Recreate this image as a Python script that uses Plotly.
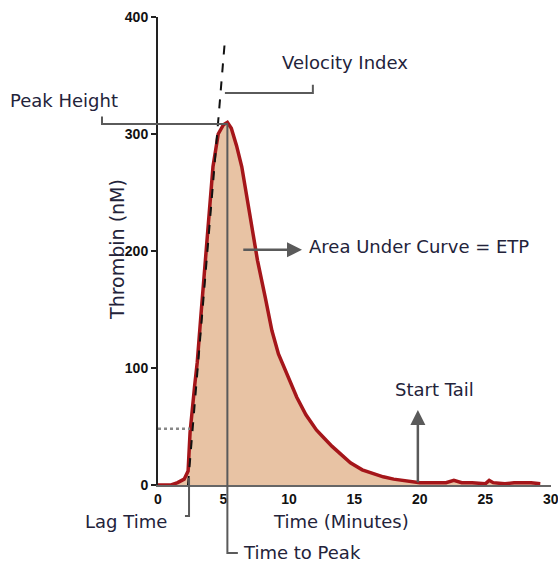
import plotly.graph_objects as go

# ---- data ----
time_min = [0, 1.0, 1.5, 2.0, 2.3, 2.45, 2.8, 3.0, 3.3, 3.6, 4.2, 4.6, 5.0, 5.3,
            5.6, 6.0, 6.4, 7.0, 7.6, 8.2, 8.7, 9.2, 9.5, 10.0, 10.6, 11.3, 12.1,
            12.7, 13.3, 14.0, 14.7, 15.6, 16.4, 17.2, 18.0, 19.2, 20.0, 21.0,
            22.0, 22.6, 23.2, 24.0, 25.0, 25.3, 25.6, 26.5, 27.2, 27.8, 28.5, 29.2]
thrombin_nM = [0, 0, 2, 5, 12, 45, 85, 105, 148, 192, 272, 300, 308, 310,
               305, 290, 272, 232, 192, 160, 132, 112, 104, 90, 75, 60, 47,
               40, 33, 26, 19, 13, 10, 7, 5, 3, 2, 2,
               2, 4, 2, 2, 1, 4, 2, 1, 2, 2, 2, 1]

tangent_t = [2.29, 5.11]
tangent_v = [0, 380]

threshold_t = [0, 2.44]
threshold_v = [48, 48]

x_ticks = [0, 5, 10, 15, 20, 25, 30]
y_ticks = [0, 100, 200, 300, 400]

TXT = "#23233a"
GRAY = "#5a5a5a"
FONT = "DejaVu Sans"
TICKFONT = "Liberation Sans Narrow, Liberation Sans, Arial"

fig = go.Figure()

fig.add_trace(go.Scatter(
    x=time_min, y=thrombin_nM, mode="lines", fill="tozeroy",
    fillcolor="#e8c3a4", line=dict(color="#a5161a", width=3.5),
    hoverinfo="skip", showlegend=False))

fig.add_trace(go.Scatter(
    x=threshold_t, y=threshold_v, mode="lines",
    line=dict(color="#888888", width=2.5, dash="dot"),
    hoverinfo="skip", showlegend=False))

fig.add_trace(go.Scatter(
    x=tangent_t, y=tangent_v, mode="lines",
    line=dict(color="#111111", width=2, dash="dash"),
    hoverinfo="skip", showlegend=False))

shapes = [
    # Peak height bracket
    dict(type="path", xref="paper", yref="y",
         path="M -0.1425,315 L -0.1425,308.5 L 0.178,308.5",
         line=dict(color=GRAY, width=2)),
    # Velocity index bracket
    dict(type="path", xref="x", yref="y",
         path="M 5.11,335 L 11.83,335 L 11.83,342",
         line=dict(color=GRAY, width=2)),
    # Time to peak
    dict(type="path", xref="x", yref="paper",
         path="M 5.3,0.771 L 5.3,-0.1453 L 6.1,-0.1453",
         line=dict(color=GRAY, width=2)),
    # Lag time
    dict(type="path", xref="x", yref="paper",
         path="M 2.37,0.015 L 2.37,-0.0662 L 2.06,-0.0662",
         line=dict(color=GRAY, width=2)),
]

annotations = [
    dict(x=11.0, y=201, ax=6.4, ay=201, axref="x", ayref="y", xref="x", yref="y",
         text="", showarrow=True, arrowhead=2, arrowsize=1.2, arrowwidth=2.5,
         arrowcolor=GRAY),
    dict(x=19.85, y=64, ax=19.85, ay=1, axref="x", ayref="y", xref="x", yref="y",
         text="", showarrow=True, arrowhead=2, arrowsize=1.2, arrowwidth=2.5,
         arrowcolor=GRAY),
    dict(x=11.37, y=204, xref="x", yref="y", text="Area Under Curve = ETP",
         xanchor="left", yanchor="middle", showarrow=False),
    dict(x=21.1, y=82, xref="x", yref="y", text="Start Tail",
         xanchor="center", yanchor="middle", showarrow=False),
    dict(x=14.3, y=361, xref="x", yref="y", text="Velocity Index",
         xanchor="center", yanchor="middle", showarrow=False),
    dict(x=-0.239, y=329, xref="paper", yref="y", text="Peak Height",
         xanchor="center", yanchor="middle", showarrow=False),
    dict(x=-0.081, y=-0.079, xref="paper", yref="paper", text="Lag Time",
         xanchor="center", yanchor="middle", showarrow=False),
    dict(x=11.0, y=-0.145, xref="x", yref="paper", text="Time to Peak",
         xanchor="center", yanchor="middle", showarrow=False),
    dict(x=14.0, y=-0.079, xref="x", yref="paper", text="Time (Minutes)",
         xanchor="center", yanchor="middle", showarrow=False),
    dict(x=-0.104, y=201, xref="paper", yref="y", text="Thrombin (nM)",
         textangle=-90, xanchor="center", yanchor="middle", showarrow=False,
         font=dict(family=FONT, size=19, color=TXT)),
]
for a in annotations:
    a.setdefault("font", dict(family=FONT, size=18, color=TXT))

fig.update_layout(
    width=558, height=565, autosize=False,
    margin=dict(l=158, r=7, t=17, b=80),
    paper_bgcolor="white", plot_bgcolor="white",
    shapes=shapes, annotations=annotations,
    xaxis=dict(range=[0, 30.02], tickvals=x_ticks, ticks="", showgrid=False,
               zeroline=False, showline=True, linecolor="#666666", linewidth=1.5,
               ticklabeloverflow="allow", automargin=False,
               tickfont=dict(family=TICKFONT, size=14, color="#111111",
                             weight="bold")),
    yaxis=dict(range=[0, 400], tickvals=y_ticks, ticks="outside", ticklen=5,
               tickwidth=2, tickcolor="#222222", showgrid=False, zeroline=False,
               showline=True, linecolor="#222222", linewidth=2,
               automargin=False,
               tickfont=dict(family=TICKFONT, size=14, color="#111111",
                             weight="bold")),
)

fig.write_html("out.html")
